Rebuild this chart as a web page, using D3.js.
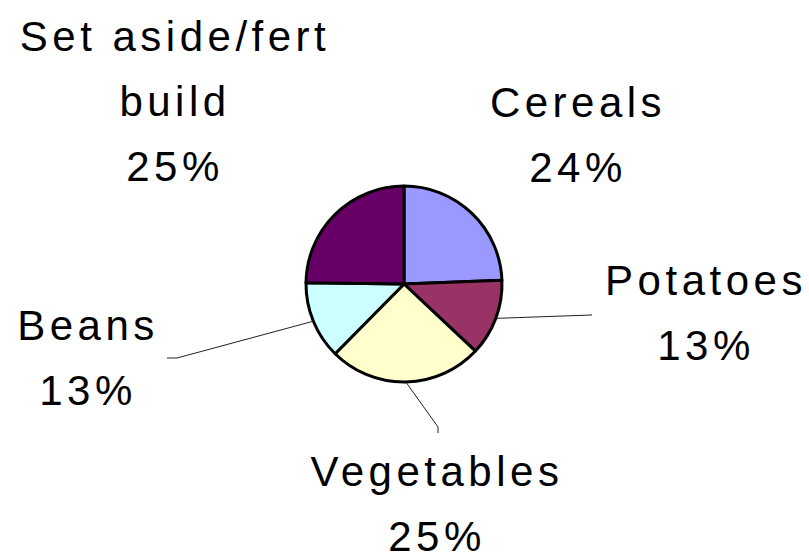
<!DOCTYPE html>
<html>
<head>
<meta charset="utf-8">
<script src="https://cdn.jsdelivr.net/npm/d3@7"></script>
<style>
body { margin: 0; background: #fff; }
svg text { font-family: "Liberation Sans", Arial, sans-serif; font-size: 42px; letter-spacing: 4.5px; fill: #000; }
</style>
</head>
<body>
<svg id="chart" width="809" height="558"></svg>
<script>
// data
var categories = ["Cereals", "Potatoes", "Vegetables", "Beans", "Set aside/fert\nbuild"];
var values = [24.4, 12.6, 25.4, 12.8, 24.8];
var colors = ["#9999ff", "#993366", "#ffffcc", "#ccffff", "#660066"];

// label layout (center x, first baseline) and leader end points
var labelPos = [[578, 117], [706, 295], [437, 486], [88, 340], [175, 51]];
var leaderEnd = [null, [[592, 315]], [[438, 427], [438, 433]], [[177, 358], [167, 358]], null];

var svg = d3.select("#chart");
var cx = 404, cy = 284, r = 98;
var lineH = 65;

var total = d3.sum(values);
var pct = d3.format(".0%");

var pie = d3.pie().sort(null).value(function(d) { return d; });
var arcs = pie(values);
var arc = d3.arc().innerRadius(0).outerRadius(r);
var edge = d3.arc().innerRadius(r).outerRadius(r);

var g = svg.append("g").attr("transform", "translate(" + cx + "," + cy + ")");

g.selectAll("path.slice").data(arcs).enter().append("path")
	.attr("class", "slice")
	.attr("d", arc)
	.attr("fill", function(d, i) { return colors[i]; })
	.attr("stroke", "#000")
	.attr("stroke-width", 3)
	.attr("stroke-linejoin", "round");

// leader lines
arcs.forEach(function(d, i) {
	if (!leaderEnd[i]) return;
	var p = edge.centroid(d);
	var pts = [[cx + p[0], cy + p[1]]].concat(leaderEnd[i]);
	svg.append("path")
		.attr("d", d3.line()(pts))
		.attr("fill", "none")
		.attr("stroke", "#222")
		.attr("stroke-width", 1);
});

// labels
arcs.forEach(function(d, i) {
	var lines = categories[i].split("\n").concat([pct(values[i] / total)]);
	var t = svg.append("text")
		.attr("text-anchor", "middle")
		.attr("x", labelPos[i][0])
		.attr("y", labelPos[i][1]);
	lines.forEach(function(s, j) {
		t.append("tspan")
			.attr("x", labelPos[i][0])
			.attr("y", labelPos[i][1] + j * lineH)
			.text(s);
	});
});
</script>
</body>
</html>
